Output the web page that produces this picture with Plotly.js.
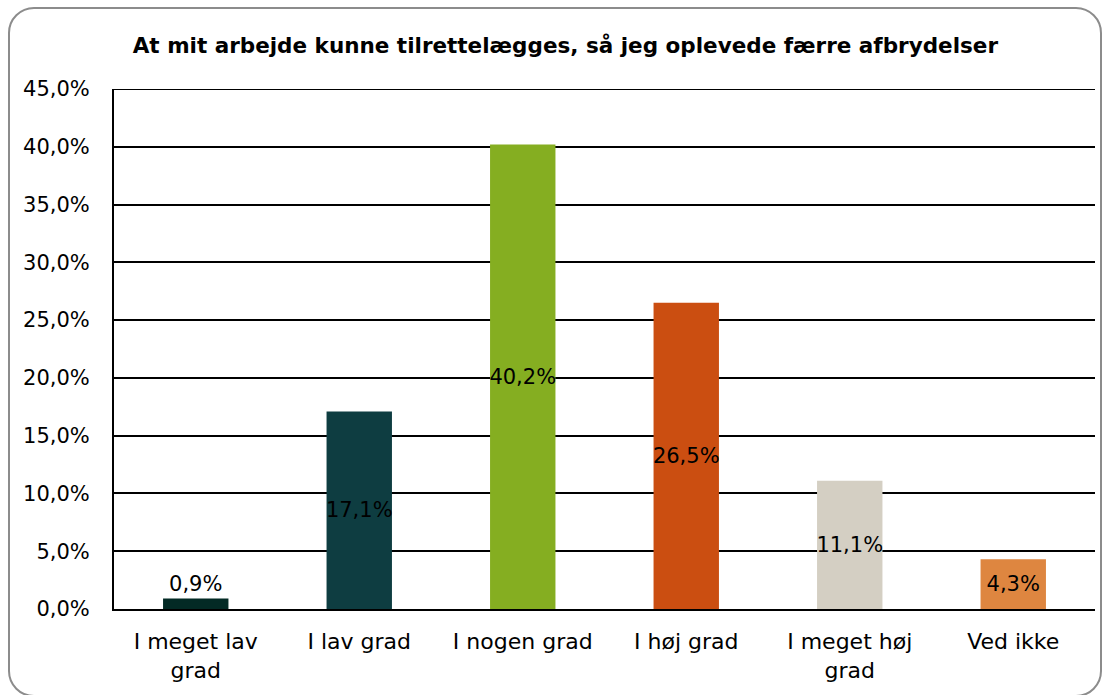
<!DOCTYPE html>
<html>
<head>
<meta charset="utf-8">
<script src="https://cdn.plot.ly/plotly-3.0.1.min.js"></script>
<style>
  html, body { margin: 0; padding: 0; background: #fff; }
  #wrap { position: relative; width: 1113px; height: 695px; }
  #chart { position: absolute; left: 0; top: 0; width: 1113px; height: 695px; }
  #frame { position: absolute; left: 8px; top: 7px; width: 1094px; height: 690px;
           border: 2px solid #8c8c8c; border-radius: 26px; pointer-events: none; box-sizing: border-box; }
</style>
</head>
<body>
<div id="wrap">
  <div id="chart"></div>
  <div id="frame"></div>
</div>
<script>
const categories = ["I meget lav<br>grad", "I lav grad", "I nogen grad", "I høj grad", "I meget høj<br>grad", "Ved ikke"];
const values = [0.9, 17.1, 40.2, 26.5, 11.1, 4.3];
const barColors = ["#032a25", "#0e3d41", "#85ae21", "#cb4e11", "#d4cfc3", "#de8640"];
const labelPositions = ["outside", "inside", "inside", "inside", "inside", "inside"];
const yTickValues = [0, 5, 10, 15, 20, 25, 30, 35, 40, 45];
const yTickLabels = ["0,0%", "5,0%", "10,0%", "15,0%", "20,0%", "25,0%", "30,0%", "35,0%", "40,0%", "45,0%"];
const chartTitle = "At mit arbejde kunne tilrettelægges, så jeg oplevede færre afbrydelser";

const FONT = "DejaVu Sans, Verdana, sans-serif";

const trace = {
  type: "bar",
  x: categories,
  y: values,
  marker: { color: barColors, line: { width: 0 } },
  texttemplate: "%{y:.1f}%",
  textposition: labelPositions,
  textangle: 0,
  insidetextanchor: "middle",
  constraintext: "none",
  cliponaxis: false,
  textfont: { family: FONT, size: 21, color: "#000" },
  insidetextfont: { family: FONT, size: 21, color: "#000" },
  outsidetextfont: { family: FONT, size: 21, color: "#000" },
  hoverinfo: "none"
};

const layout = {
  width: 1113,
  height: 695,
  margin: { l: 114, r: 18, t: 89, b: 86 },
  paper_bgcolor: "#fff",
  plot_bgcolor: "#fff",
  separators: ",.",
  bargap: 0.6,
  showlegend: false,
  font: { family: FONT, color: "#000" },
  title: {
    text: "<b>" + chartTitle + "</b>",
    font: { family: FONT, size: 21.5, color: "#000" },
    x: 0.508, xanchor: "center",
    y: 0.935, yanchor: "middle"
  },
  xaxis: {
    type: "category",
    showline: true, linecolor: "#000", linewidth: 2,
    ticks: "", showgrid: false,
    tickfont: { family: FONT, size: 22, color: "#000" },
    ticklabelstandoff: 12,
    fixedrange: true
  },
  yaxis: {
    range: [0, 45],
    tickmode: "array",
    tickvals: yTickValues,
    ticktext: yTickLabels,
    showline: true, linecolor: "#000", linewidth: 2,
    showgrid: true, gridcolor: "#000", gridwidth: 2,
    zeroline: false,
    ticks: "",
    tickfont: { family: FONT, size: 21, color: "#000" },
    ticklabelstandoff: 18,
    fixedrange: true
  },
  shapes: [{
    type: "line", xref: "paper", yref: "y",
    x0: 0, x1: 1, y0: yTickValues[yTickValues.length - 1], y1: yTickValues[yTickValues.length - 1],
    line: { color: "#000", width: 2 }, layer: "below"
  }]
};

Plotly.newPlot("chart", [trace], layout, { staticPlot: true, displayModeBar: false });
</script>
</body>
</html>
